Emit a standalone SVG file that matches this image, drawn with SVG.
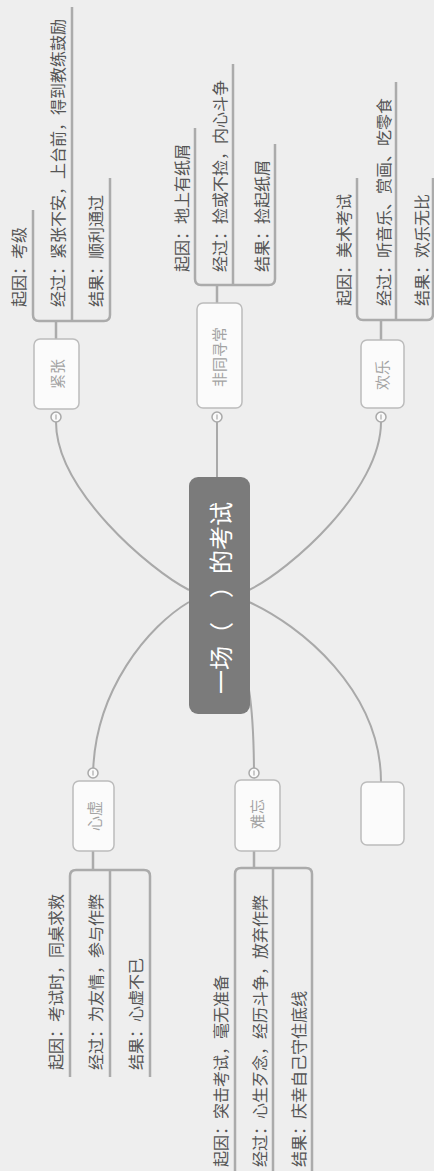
<svg xmlns="http://www.w3.org/2000/svg" width="434" height="1171" viewBox="0 0 434 1171">
<style>
.conn{fill:none;stroke:#a9a9a9;stroke-width:2}
.br{fill:none;stroke:#ababab;stroke-width:2.5}
.box{fill:#fbfbfb;stroke:#bcbcbc;stroke-width:1.5}
.tog{fill:#fafafa;stroke:#a9a9a9;stroke-width:1.5}
.tm{stroke:#a9a9a9;stroke-width:1.2}
.lbl{font-family:"Noto Sans CJK SC","Noto Sans",sans-serif;font-size:15px;fill:#a3a3a3;text-anchor:middle;dominant-baseline:central}
.leaf{font-family:"Noto Sans CJK SC","Noto Sans",sans-serif;font-size:16px;fill:#555555;dominant-baseline:central}
.central{fill:#7b7b7b}
.ctext{font-family:"Noto Sans CJK SC","Noto Sans",sans-serif;font-size:24px;fill:#ffffff;dominant-baseline:central}
</style>
<rect width="434" height="1171" fill="#eeeeee"/>
<g id="connectors">
<path class="conn" d="M189,590 C150,570 56,490 56,422"/>
<path class="conn" d="M217,477 V422"/>
<path class="conn" d="M249,590 C290,570 381,490 381,422"/>
<path class="conn" d="M189,602 C150,625 93,690 93,778"/>
<path class="conn" d="M249,690 C253,715 254,740 254,778"/>
<path class="conn" d="M249,602 C300,625 381,690 381,782"/>
<path class="br" d="M33,210 V315 Q33,321 39,321 H104 Q110,321 110,315 V178 M72,7 V321 M56,321 V339"/>
<path class="br" d="M195,128 V279 Q195,285 201,285 H269 Q275,285 275,279 V144 M233,64 V285 M217,285 V303"/>
<path class="br" d="M357,178 V314 Q357,320 363,320 H427 Q433,320 433,314 V178 M396,82 V320 M381,320 V340"/>
<path class="br" d="M70,1077 V876 Q70,870 76,870 H144 Q150,870 150,876 V1077 M110,870 V1077 M93,851 V870"/>
<path class="br" d="M235,1175 V874 Q235,868 241,868 H306 Q312,868 312,874 V1175 M273,868 V1175 M254,851 V868"/>
</g>
<g id="central">
<rect class="central" x="189" y="477" width="61" height="237" rx="9"/>
<text class="ctext" x="219" y="694" transform="rotate(-90 219 694)">一场（　）的考试</text>
</g>
<g id="node-jinzhang">
<rect class="box" x="34" y="339" width="45" height="70" rx="6"/>
<text class="lbl" x="56" y="374" transform="rotate(-90 56 374)">紧张</text>
<circle class="tog" cx="56" cy="417" r="5"/>
<line class="tm" x1="56" y1="414.5" x2="56" y2="419.5"/>
</g>
<g id="node-feitong">
<rect class="box" x="197" y="303" width="45" height="105" rx="6"/>
<text class="lbl" x="218" y="357" transform="rotate(-90 218 357)">非同寻常</text>
<circle class="tog" cx="217" cy="417" r="5"/>
<line class="tm" x1="217" y1="414.5" x2="217" y2="419.5"/>
</g>
<g id="node-huanle">
<rect class="box" x="361" y="340" width="43" height="68" rx="6"/>
<text class="lbl" x="381" y="375" transform="rotate(-90 381 375)">欢乐</text>
<circle class="tog" cx="381" cy="417" r="5"/>
<line class="tm" x1="381" y1="414.5" x2="381" y2="419.5"/>
</g>
<g id="node-xinxu">
<rect class="box" x="73" y="781" width="41" height="70" rx="6"/>
<text class="lbl" x="93" y="816" transform="rotate(-90 93 816)">心虚</text>
<circle class="tog" cx="93" cy="773" r="5"/>
<line class="tm" x1="93" y1="770.5" x2="93" y2="775.5"/>
</g>
<g id="node-nanwang">
<rect class="box" x="235" y="780" width="45" height="71" rx="6"/>
<text class="lbl" x="256" y="814" transform="rotate(-90 256 814)">难忘</text>
<circle class="tog" cx="254" cy="773" r="5"/>
<line class="tm" x1="254" y1="770.5" x2="254" y2="775.5"/>
</g>
<g id="node-empty">
<rect class="box" x="361" y="782" width="43" height="63" rx="6"/>
</g>
<g id="leaves-jinzhang">
<text class="leaf" x="18" y="307" transform="rotate(-90 18 307)">起因：考级</text>
<text class="leaf" x="57" y="307" transform="rotate(-90 57 307)">经过：紧张不安，上台前，得到教练鼓励</text>
<text class="leaf" x="95" y="307" transform="rotate(-90 95 307)">结果：顺利通过</text>
</g>
<g id="leaves-feitong">
<text class="leaf" x="181" y="272" transform="rotate(-90 181 272)">起因：地上有纸屑</text>
<text class="leaf" x="219" y="272" transform="rotate(-90 219 272)">经过：捡或不捡，内心斗争</text>
<text class="leaf" x="261" y="272" transform="rotate(-90 261 272)">结果：捡起纸屑</text>
</g>
<g id="leaves-huanle">
<text class="leaf" x="343" y="306" transform="rotate(-90 343 306)">起因：美术考试</text>
<text class="leaf" x="383" y="306" transform="rotate(-90 383 306)">经过：听音乐、赏画、吃零食</text>
<text class="leaf" x="421" y="306" transform="rotate(-90 421 306)">结果：欢乐无比</text>
</g>
<g id="leaves-xinxu">
<text class="leaf" x="55" y="1070" transform="rotate(-90 55 1070)">起因：考试时，同桌求救</text>
<text class="leaf" x="95" y="1070" transform="rotate(-90 95 1070)">经过：为友情，参与作弊</text>
<text class="leaf" x="135" y="1070" transform="rotate(-90 135 1070)">结果：心虚不已</text>
</g>
<g id="leaves-nanwang">
<text class="leaf" x="220" y="1167" transform="rotate(-90 220 1167)">起因：突击考试，毫无准备</text>
<text class="leaf" x="259" y="1167" transform="rotate(-90 259 1167)">经过：心生歹念，经历斗争，放弃作弊</text>
<text class="leaf" x="298" y="1167" transform="rotate(-90 298 1167)">结果：庆幸自己守住底线</text>
</g>
</svg>
